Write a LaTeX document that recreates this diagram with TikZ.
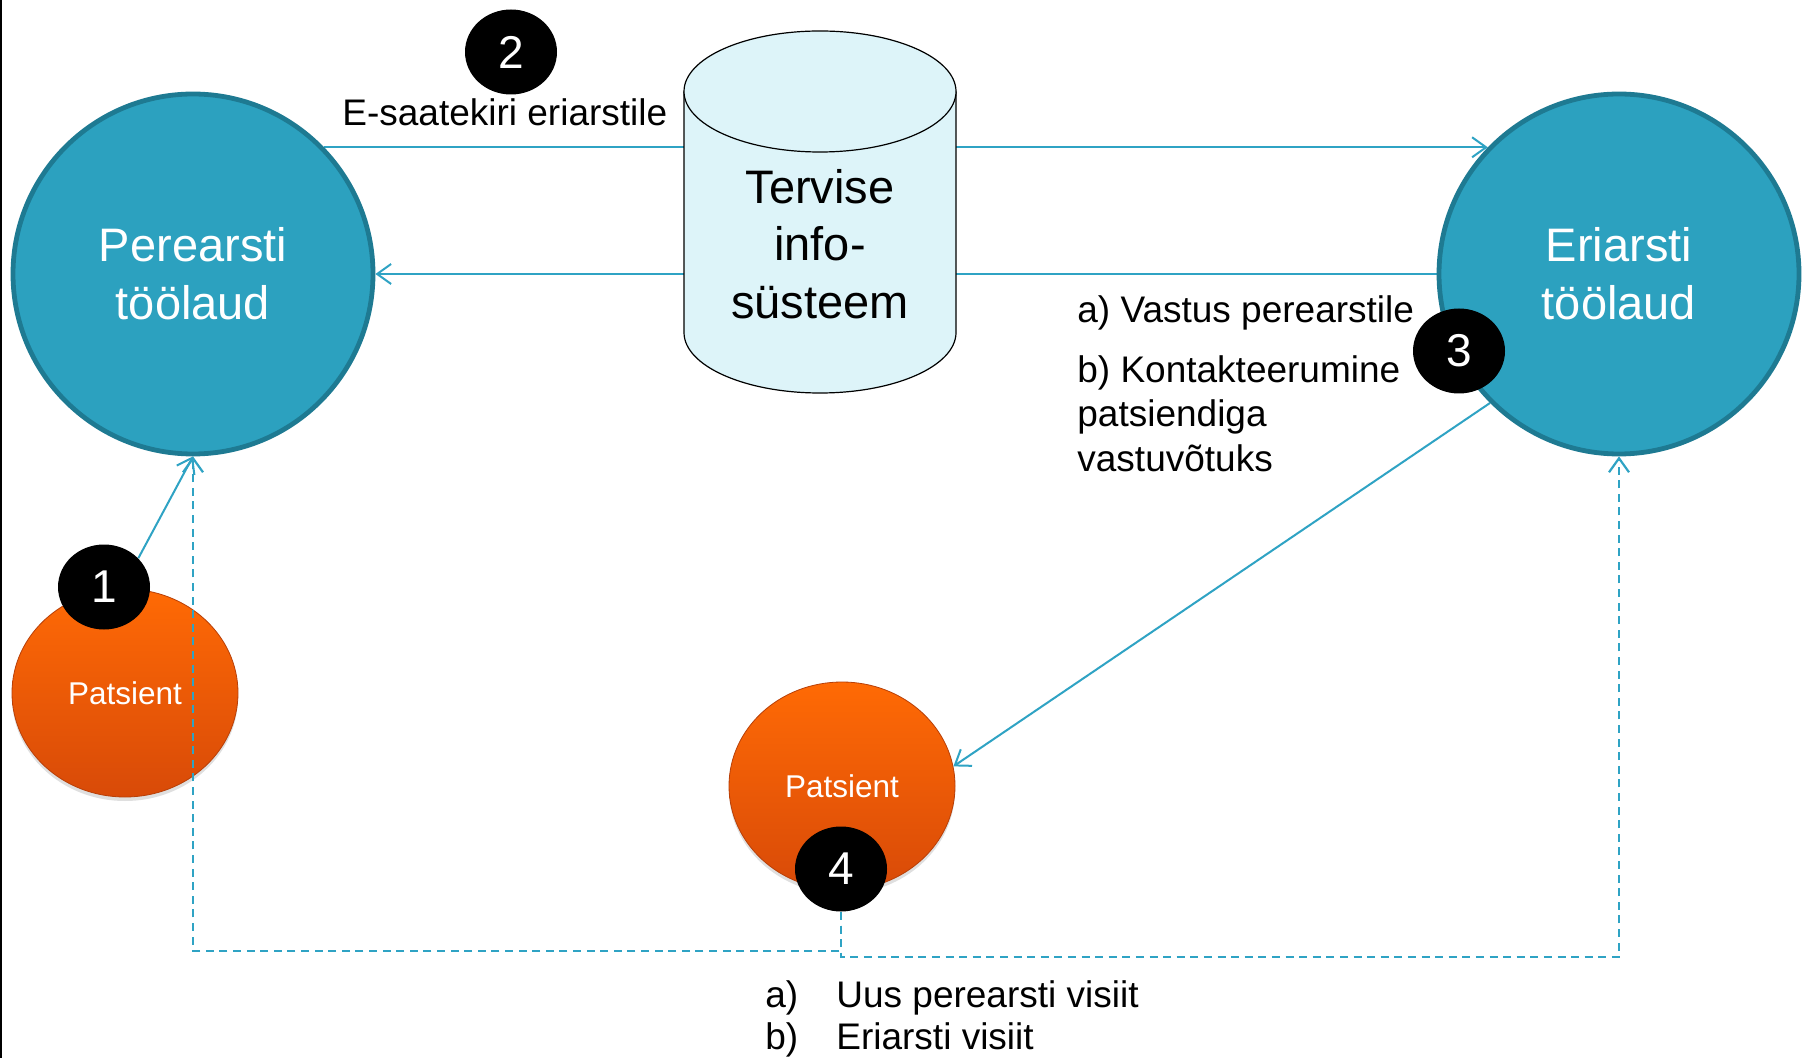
\documentclass[tikz,border=0pt]{standalone}
\usepackage{fontspec}
\setmainfont{Liberation Sans}
\usetikzlibrary{arrows.meta,shapes.geometric,shadows}
\definecolor{tealfill}{HTML}{2CA1BF}
\definecolor{tealedge}{HTML}{1E7A92}
\definecolor{linec}{HTML}{2FA3C4}
\definecolor{cylf}{HTML}{DDF4F9}
\definecolor{orTop}{HTML}{FF6A05}
\definecolor{orMid}{HTML}{FA5D02}
\definecolor{orBot}{HTML}{D84A08}
\pgfdeclarelayer{paper}
\pgfdeclarelayer{back}
\pgfdeclarelayer{mid}
\pgfsetlayers{paper,back,mid,main}
\begin{document}
\begin{tikzpicture}[x=0.5pt,y=-0.5pt,
  bigcirc/.style={circle, fill=tealfill, draw=tealedge, line width=2.4pt, minimum size=180pt, inner sep=0pt, text=white, align=center, font=\fontsize{23.5}{29}\selectfont},
  patient/.style={ellipse, minimum width=113pt, minimum height=104pt, inner sep=0pt, top color=orTop, middle color=orMid, bottom color=orBot, draw=orBot!85!black, line width=0.4pt, text=white, font=\fontsize{15.75}{18}\selectfont, drop shadow={opacity=0.25, shadow xshift=0pt, shadow yshift=-2pt}},
  badge/.style={ellipse, fill=black, minimum width=46pt, minimum height=42.5pt, inner sep=0pt, text=white, font=\fontsize{23}{27}\selectfont},
  link/.style={draw=linec, line width=1pt},
  arr/.style={-{Straight Barb[length=7pt,width=10pt]}},
  dsh/.style={link, line width=1.1pt, dash pattern=on 4pt off 2.8pt},
  lbl/.style={font=\fontsize{18.5}{22.25}\selectfont, inner sep=0pt, anchor=base west},
  cyltext/.style={align=center, inner sep=0pt, font=\fontsize{23.5}{28.75}\selectfont},
]
\useasboundingbox (0,0) rectangle (1802,1058);
\begin{pgfonlayer}{paper}
\fill[white] (0,0) rectangle (1802,1058);
\draw[line width=1pt] (1,0) -- (1,1058);
\end{pgfonlayer}

\begin{pgfonlayer}{back}
\node[patient] (p1) at (125,693) {Patsient};
\node[patient] (p2) at (842,786) {Patsient};
\end{pgfonlayer}

\node[bigcirc] (gp) at (193,274) {Perearsti\\töölaud};
\node[bigcirc] (sp) at (1619,274) {Eriarsti\\töölaud};

% cylinder
\fill[cylf] (684,91.5) -- (684,332.5) arc[start angle=180,end angle=360,x radius=68pt,y radius=30.25pt] -- (956,91.5) -- cycle;
\draw[line width=0.6pt] (684,91.5) -- (684,332.5) arc[start angle=180,end angle=360,x radius=68pt,y radius=30.25pt] -- (956,91.5);
\filldraw[fill=cylf, line width=0.6pt] (820,91.5) ellipse [x radius=68pt, y radius=30.25pt];
\node[cyltext] (his) at (820,244) {Tervise\\info-\\süsteem};

\node[badge] (b1) at (104,587) {1};
\node[badge] (b2) at (511,52) {2};
\node[badge] (b3) at (1459,351) {3};
\node[badge] (b4) at (841,869) {4};

\node[lbl] (l2) at (342,126) {E-saatekiri eriarstile};
\node[lbl] (l3a) at (1077,323) {a) Vastus perearstile};
\node[lbl] (l3b) at (1077,383) {b) Kontakteerumine};
\node[lbl] (l3c) at (1077,427) {patsiendiga};
\node[lbl] (l3d) at (1077,472) {vastuvõtuks};
\node[lbl] (l4a) at (765,1007) {\makebox[35.5pt][l]{a)}Uus perearsti visiit};
\node[lbl] (l4b) at (765,1049.5) {\makebox[35.5pt][l]{b)}Eriarsti visiit};

\begin{pgfonlayer}{mid}
\draw[link,arr] (gp.44) -- (sp.136);
\draw[link,arr] (sp.west) -- (gp.east);
\draw[link,arr] (b1.40) -- (gp.south);
\draw[link,arr] (sp.225) -- (p2.10);
\draw[dsh,arr] (b4.south) -- (b4.south |- 0,951) -| (gp.south);
\draw[dsh,arr] (b4.south) -- (b4.south |- 0,957) -| (sp.south);
\end{pgfonlayer}
\end{tikzpicture}
\end{document}
